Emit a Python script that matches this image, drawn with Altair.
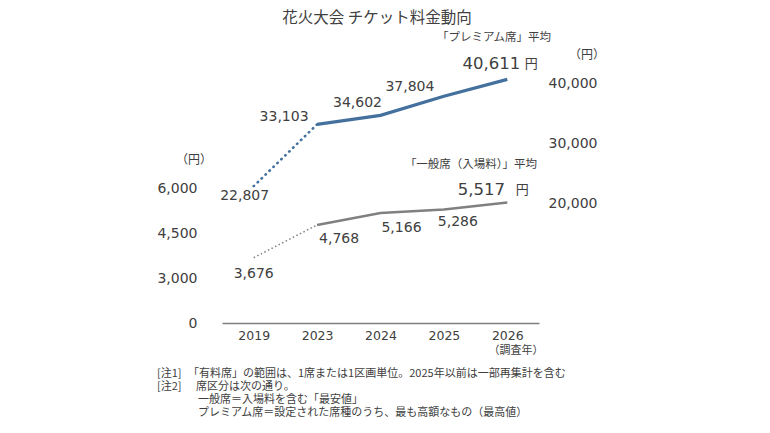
import altair as alt
import pandas as pd

# ---- data ----
years = ["2019", "2023", "2024", "2025", "2026"]
general = [3676, 4768, 5166, 5286, 5517]
premium = [22807, 33103, 34602, 37804, 40611]
left_ticks = [1500, 3000, 4500, 6000]   # broken axis: the lowest tick is shown as "0"
right_ticks = [20000, 30000, 40000]

df = pd.DataFrame({"year": years, "general": general, "premium": premium})

FONT = "Noto Sans CJK JP"
NUM = "DejaVu Sans"
TXT = "#404040"
BLUE = "#44709e"
GRAY = "#808080"

W, H = 317, 264
X0, Y0 = 222, 59  # plot origin on page

x_enc = alt.X(
    "year:O", sort=years, scale=alt.Scale(type="point", padding=0.5),
    axis=alt.Axis(title=None, labelAngle=0, domain=True, domainColor=GRAY,
                  domainWidth=1.5, ticks=False, grid=False, labelFontSize=12.5,
                  labelColor=TXT, labelFont=NUM, labelPadding=6),
)

gen_scale = alt.Scale(domain=[1500, 10300], zero=False, nice=False)
pre_scale = alt.Scale(domain=[0, 44000], zero=False, nice=False)

left_axis = alt.Axis(orient="left", values=left_ticks,
                     labelExpr="datum.value == 1500 ? '0' : format(datum.value, ',')",
                     domain=False, ticks=False, grid=False, labelPadding=25,
                     labelFontSize=14, labelColor=TXT, labelFont=NUM, title=None)
right_axis = alt.Axis(orient="right", values=right_ticks,
                      labelExpr="format(datum.value, ',')",
                      domain=False, ticks=False, grid=False, labelPadding=9,
                      labelFontSize=14, labelColor=TXT, labelFont=NUM, title=None)

base = alt.Chart(df)
early = alt.FieldOneOfPredicate(field="year", oneOf=["2019", "2023"])
late = alt.FieldOneOfPredicate(field="year", oneOf=["2023", "2024", "2025", "2026"])

gen_dot = base.transform_filter(early).mark_line(
    color=GRAY, strokeWidth=1.5, strokeDash=[1.5, 2.5]
).encode(x=x_enc, y=alt.Y("general:Q", scale=gen_scale, axis=left_axis))
gen_solid = base.transform_filter(late).mark_line(
    color=GRAY, strokeWidth=2.5
).encode(x=x_enc, y=alt.Y("general:Q", scale=gen_scale, axis=None))
pre_dot = base.transform_filter(early).mark_line(
    color=BLUE, strokeWidth=2.6, strokeDash=[0.5, 5], strokeCap="round"
).encode(x=x_enc, y=alt.Y("premium:Q", scale=pre_scale, axis=right_axis))
pre_solid = base.transform_filter(late).mark_line(
    color=BLUE, strokeWidth=3.2
).encode(x=x_enc, y=alt.Y("premium:Q", scale=pre_scale, axis=None))


def lab(field, scale, year, dx, dy, size=14, unit=False):
    text = alt.value("円") if unit else alt.Text(f"{field}:Q", format=",")
    return base.transform_filter(alt.datum.year == year).mark_text(
        dx=dx, dy=dy, fontSize=size, font=FONT if unit else NUM, color=TXT,
        baseline="middle"
    ).encode(x=x_enc, y=alt.Y(f"{field}:Q", scale=scale, axis=None), text=text)


def static(txt, x, y, size, align="center", baseline="middle"):
    return alt.Chart(pd.DataFrame({"t": [txt]})).mark_text(
        fontSize=size, font=FONT, color=TXT, align=align, baseline=baseline
    ).encode(x=alt.value(x - X0), y=alt.value(y - Y0), text=alt.value(txt))


labels = [
    lab("general", gen_scale, "2019", 0, 16),
    lab("general", gen_scale, "2023", 22, 14),
    lab("general", gen_scale, "2024", 21, 15),
    lab("general", gen_scale, "2025", 14, 13),
    lab("general", gen_scale, "2026", -26, -12, size=16.5),
    lab("general", gen_scale, "2026", 15, -12, size=13, unit=True),
    lab("premium", pre_scale, "2019", -9, 10),
    lab("premium", pre_scale, "2023", -33, -7),
    lab("premium", pre_scale, "2024", -23, -12),
    lab("premium", pre_scale, "2025", -34, -9),
    lab("premium", pre_scale, "2026", -16, -15, size=16.5),
    lab("premium", pre_scale, "2026", 24, -15, size=13, unit=True),
]

statics = [
    static("花火大会 チケット料金動向", 377, 11, 15.5, baseline="top"),
    static("「プレミアム席」平均", 494, 38, 11.5),
    static("「一般席（入場料）」平均", 471, 165, 11.5),
    static("（円）", 194, 160, 12),
    static("（円）", 587, 55, 12),
    static("（調査年）", 516, 351, 11),
    static("[注1]", 157, 374, 11, align="left"),
    static("「有料席」の範囲は、1席または1区画単位。2025年以前は一部再集計を含む", 188, 374, 11, align="left"),
    static("[注2]", 157, 387, 11, align="left"),
    static("席区分は次の通り。", 196, 387, 11, align="left"),
    static("一般席＝入場料を含む「最安値」", 198, 400, 11, align="left"),
    static("プレミアム席＝設定された席種のうち、最も高額なもの（最高値）", 198, 413, 11, align="left"),
]

chart = alt.layer(
    gen_dot, gen_solid, pre_dot, pre_solid, *labels, *statics
).resolve_scale(y="independent").properties(
    width=W, height=H,
    autosize=alt.AutoSizeParams(type="none"),
    padding={"left": X0 - 8, "top": Y0 - 8, "right": 770 - 16 - (X0 - 8) - W,
             "bottom": 433 - 16 - (Y0 - 8) - H},
    background="white",
).configure_view(stroke=None)

chart.save("out.html", embed_options={"renderer": "svg", "actions": False})
